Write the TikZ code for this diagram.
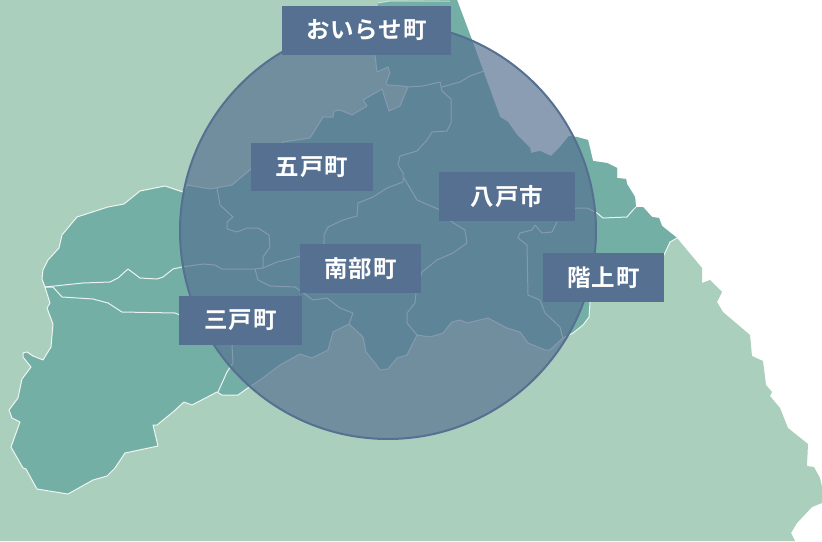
\documentclass[tikz,border=0pt]{standalone}
\usepackage{fontspec}
\newfontfamily\cjk[LetterSpace=4]{Noto Sans CJK JP Bold}
\definecolor{land}{HTML}{ABCFBD}
\definecolor{teal}{HTML}{74AFA6}
\definecolor{lab}{HTML}{557090}
\tikzset{
  landfill/.style={fill=land,draw=none},
  tealfill/.style={fill=teal,draw=none},
  border/.style={draw=white,line width=1pt,line join=round,opacity=.85},
  townlab/.style={fill=lab,text=white,inner sep=0pt,font=\cjk\fontsize{23.5}{28}\selectfont}
}
\begin{document}
\begin{tikzpicture}[x=1pt,y=-1pt]
\useasboundingbox (0,0) rectangle (822,541);
\fill[white] (0,0) rectangle (822,541);
\path[landfill] (0,0) -- (457,0) -- (472,40) -- (500,117) -- (508,122) -- (517,135) -- (530,148) -- (531,153) -- (540,151) -- (551,156) -- (560,147) -- (569,136) -- (577,137) -- (588,140) -- (593,161) -- (607,163) -- (617,168) -- (617,178) -- (626,179) -- (627,184) -- (635,197) -- (636,207) -- (643,207) -- (652,217) -- (659,218) -- (662,226) -- (677,238) -- (702,268) -- (702,283) -- (710,280) -- (722,292) -- (717,302) -- (723,312) -- (750,335) -- (752,356) -- (763,361) -- (766,385) -- (772,392) -- (770,396) -- (780,408) -- (788,428) -- (808,444) -- (807,466) -- (814,467) -- (820,478) -- (822,487) -- (822,503) -- (812,507) -- (797,523) -- (791,533) -- (795,541) -- (0,541) -- cycle;
\path[tealfill] (378,3) -- (390,1) -- (457,0) -- (472,40) -- (500,117) -- (508,122) -- (517,135) -- (530,148) -- (531,153) -- (540,151) -- (551,156) -- (560,147) -- (569,136) -- (577,137) -- (588,140) -- (593,161) -- (607,163) -- (617,168) -- (617,178) -- (626,179) -- (627,184) -- (635,197) -- (636,207) -- (643,207) -- (652,217) -- (659,218) -- (662,226) -- (677,238) -- (670,242) -- (664,255) -- (590,302) -- (589,317) -- (583,325) -- (573,333) -- (563,338) -- (550,350) -- (545,350) -- (528,343) -- (520,332) -- (507,328) -- (488,318) -- (467,323) -- (460,320) -- (452,322) -- (443,333) -- (430,337) -- (417,335) -- (412,345) -- (407,355) -- (397,358) -- (388,369) -- (380,370) -- (375,363) -- (366,352) -- (363,337) -- (349,324) -- (333,332) -- (328,350) -- (312,358) -- (300,354) -- (280,365) -- (260,380) -- (245,390) -- (238,395) -- (222,395) -- (217,392) -- (192,405) -- (184,402) -- (173,412) -- (157,425) -- (153,425) -- (158,446) -- (125,453) -- (115,468) -- (107,476) -- (93,480) -- (68,494) -- (37,489) -- (26,469) -- (23,468) -- (11,447) -- (20,422) -- (12,418) -- (9,410) -- (18,398) -- (22,379) -- (31,367) -- (23,357) -- (23,353) -- (27,352) -- (33,356) -- (43,360) -- (51,347) -- (53,324) -- (47,308) -- (50,303) -- (45,287) -- (42,279) -- (43,270) -- (48,260) -- (59,248) -- (62,235) -- (77,217) -- (108,207) -- (124,204) -- (140,191) -- (165,186) -- (183,192) -- (187,185) -- (210,189) -- (232,185) -- (251,169) -- (283,142) -- (310,138) -- (323,117) -- (333,117) -- (334,111) -- (340,110) -- (352,115) -- (367,106) -- (363,100) -- (382,89) -- (389,111) -- (400,106) -- (408,87) -- (403,86) -- (388,85) -- (386,83) -- (390,73) -- (388,67) -- (377,72) -- (375,55) -- cycle;
% outer borders
\draw[border] (677,238) -- (670,242) -- (664,255) -- (590,302) -- (589,317) -- (583,325) -- (573,333) -- (563,338) -- (550,350) -- (545,350) -- (528,343) -- (520,332) -- (507,328) -- (488,318) -- (467,323) -- (460,320) -- (452,322) -- (443,333) -- (430,337) -- (417,335) -- (412,345) -- (407,355) -- (397,358) -- (388,369) -- (380,370) -- (375,363) -- (366,352) -- (363,337) -- (349,324) -- (333,332) -- (328,350) -- (312,358) -- (300,354) -- (280,365) -- (260,380) -- (245,390) -- (238,395) -- (222,395) -- (217,392) -- (192,405) -- (184,402) -- (173,412) -- (157,425) -- (153,425) -- (158,446) -- (125,453) -- (115,468) -- (107,476) -- (93,480) -- (68,494) -- (37,489) -- (26,469) -- (23,468) -- (11,447) -- (20,422) -- (12,418) -- (9,410) -- (18,398) -- (22,379) -- (31,367) -- (23,357) -- (23,353) -- (27,352) -- (33,356) -- (43,360) -- (51,347) -- (53,324) -- (47,308) -- (50,303) -- (45,287) -- (42,279) -- (43,270) -- (48,260) -- (59,248) -- (62,235) -- (77,217) -- (108,207) -- (124,204) -- (140,191) -- (165,186) -- (183,192) -- (187,185) -- (210,189) -- (232,185) -- (251,169) -- (283,142) -- (310,138) -- (323,117) -- (333,117) -- (334,111) -- (340,110) -- (352,115) -- (367,106) -- (363,100) -- (382,89) -- (389,111) -- (400,106) -- (408,87) -- (403,86) -- (388,85) -- (386,83) -- (390,73) -- (388,67) -- (377,72) -- (375,55);
\draw[border,opacity=.5] (378,3) -- (390,1) -- (450,1);
% municipal lines
\draw[border] (45,287) -- (83,283) -- (110,282) -- (118,278) -- (128,269) -- (140,278) -- (157,279) -- (163,277) -- (173,269) -- (182,267) -- (203,264) -- (215,265) -- (222,269) -- (233,269) -- (255,269) -- (263,268) -- (277,262) -- (290,259) -- (300,256) -- (324,244) -- (324,235) -- (328,227) -- (343,220) -- (357,216) -- (358,203) -- (373,197) -- (387,188) -- (403,182) -- (403,173) -- (398,165) -- (400,156) -- (417,151) -- (427,140) -- (432,132) -- (447,131) -- (451,123) -- (451,99) -- (442,91) -- (440,82) -- (423,86) -- (408,87);
\draw[border] (442,87) -- (460,82) -- (470,76) -- (484,71);
\draw[border] (404,178) -- (417,200) -- (438,209) -- (452,222) -- (465,230) -- (467,243) -- (453,253) -- (437,260) -- (422,272) -- (416,293) -- (415,303) -- (407,313) -- (407,323) -- (417,335);
\draw[border] (255,269) -- (258,280) -- (270,286) -- (295,287) -- (313,300) -- (327,298) -- (340,308) -- (353,313) -- (349,324);
\draw[border] (263,268) -- (263,257) -- (270,247) -- (269,235) -- (258,228) -- (247,228) -- (237,232) -- (227,229) -- (227,222) -- (233,217) -- (220,205) -- (217,188);
\draw[border] (232,345) -- (233,363) -- (227,372) -- (218,392);
\draw[border] (45,287) -- (53,287) -- (62,297) -- (93,299) -- (108,303) -- (122,312) -- (175,313) -- (180,315);
\draw[border] (575,208) -- (587,208) -- (597,213) -- (603,218) -- (627,217) -- (633,210) -- (636,207);
\draw[border] (557,222) -- (552,232) -- (542,233) -- (535,225) -- (532,230) -- (520,233) -- (518,238) -- (527,245) -- (528,295) -- (540,300) -- (545,313) -- (560,327) -- (562,335) -- (563,338);
% circle
\fill[lab,fill opacity=.68] (388,231) circle[radius=208];
\draw[lab,line width=2pt] (388,231) circle[radius=208];
% labels
\node[townlab,minimum width=169pt,minimum height=49pt] (oirase) at (366.5,30.5) {おいらせ町};
\node[townlab,minimum width=122pt,minimum height=48pt] (gonohe) at (312,167) {五戸町};
\node[townlab,minimum width=136pt,minimum height=49pt] (hachinohe) at (507,196.5) {八戸市};
\node[townlab,minimum width=121pt,minimum height=49pt] (nanbu) at (360.5,268.5) {南部町};
\node[townlab,minimum width=123pt,minimum height=49pt] (sannohe) at (240.5,320.5) {三戸町};
\node[townlab,minimum width=121pt,minimum height=49pt] (hashikami) at (603.5,277.5) {階上町};
\end{tikzpicture}
\end{document}
